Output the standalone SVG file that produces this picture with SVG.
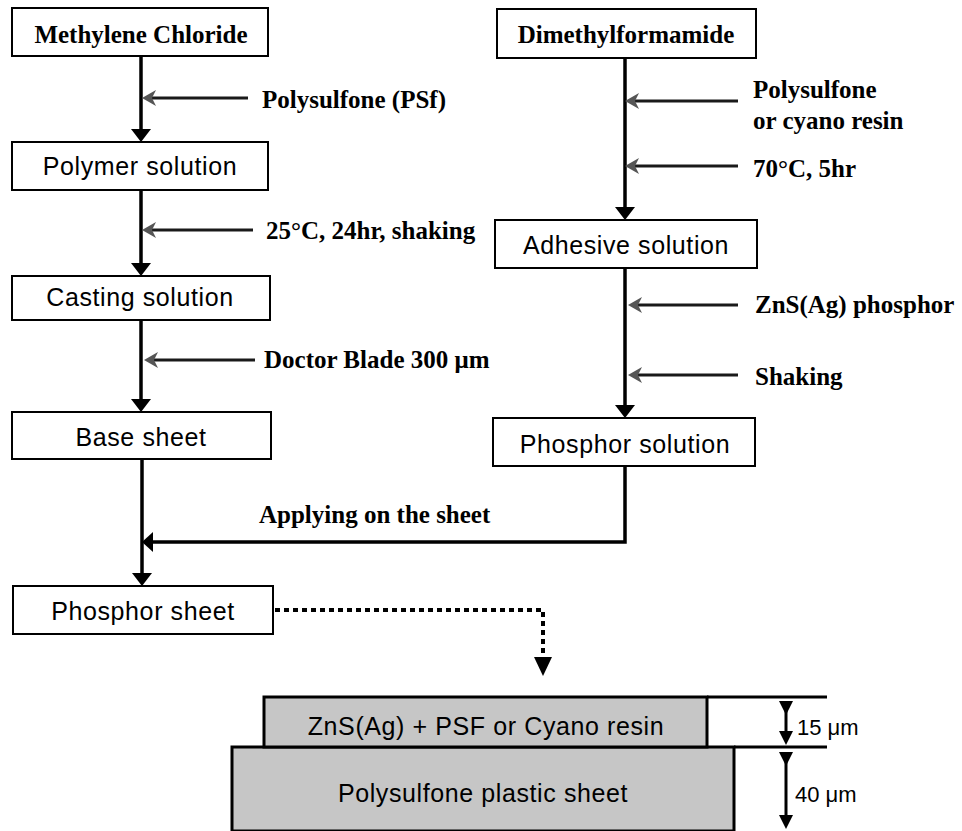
<svg xmlns="http://www.w3.org/2000/svg" width="962" height="831" viewBox="0 0 962 831">
<style>
.box{fill:#fff;stroke:#000;stroke-width:2}
.bl{font-family:"Liberation Sans",Arial,sans-serif;font-size:25px;letter-spacing:0.6px;fill:#000;text-anchor:middle}
.tb{font-family:"Liberation Serif","Times New Roman",serif;font-size:25px;font-weight:bold;fill:#000}
.main{stroke:#000;stroke-width:3.5;fill:none}
.side{stroke:#1a1a1a;stroke-width:3;fill:none}
.dot{stroke:#000;stroke-width:4;fill:none;stroke-dasharray:5 4}
.layer{fill:#c6c6c6;stroke:#000;stroke-width:3}
.edge{stroke:#000;stroke-width:3;fill:none}
.dim{stroke:#000;stroke-width:3;fill:none}
.dl{font-family:"Liberation Sans",Arial,sans-serif;font-size:22px;fill:#000}
</style>
<defs>
<marker id="ah" markerUnits="userSpaceOnUse" markerWidth="14" markerHeight="20" refX="7" refY="10" orient="auto" viewBox="0 0 14 20">
<path d="M0,0 L13,10 L0,20 z" fill="#000"/>
</marker>
<marker id="ahs" markerUnits="userSpaceOnUse" markerWidth="14" markerHeight="16" refX="4" refY="8" orient="auto" viewBox="0 0 14 16">
<path d="M0,0 L14,8 L0,16 L4,8 z" fill="#555"/>
</marker>
<marker id="ahd" markerUnits="userSpaceOnUse" markerWidth="14" markerHeight="14" refX="6" refY="7" orient="auto" viewBox="0 0 14 14">
<path d="M0,0 L14,7 L0,14 z" fill="#000"/>
</marker>
<marker id="ahj" markerUnits="userSpaceOnUse" markerWidth="12" markerHeight="20" refX="4" refY="10" orient="auto" viewBox="0 0 12 20">
<path d="M0,0 L11,10 L0,20 z" fill="#000"/>
</marker>
</defs>

<g id="connectors">
<line class="main" x1="141" y1="56" x2="141" y2="136" marker-end="url(#ah)"/>
<line class="main" x1="141" y1="190" x2="141" y2="270" marker-end="url(#ah)"/>
<line class="main" x1="141" y1="320" x2="141" y2="406" marker-end="url(#ah)"/>
<line class="main" x1="142" y1="459" x2="142" y2="580" marker-end="url(#ah)"/>
<line class="main" x1="625" y1="58" x2="625" y2="214" marker-end="url(#ah)"/>
<line class="main" x1="625" y1="268" x2="625" y2="412" marker-end="url(#ah)"/>
<polyline class="main" points="625,466 625,542 149,542" marker-end="url(#ahj)"/>
<line class="side" x1="248" y1="98" x2="152" y2="98" marker-end="url(#ahs)"/>
<line class="side" x1="253" y1="230" x2="152" y2="230" marker-end="url(#ahs)"/>
<line class="side" x1="255" y1="360" x2="154" y2="360" marker-end="url(#ahs)"/>
<line class="side" x1="738" y1="101" x2="635" y2="101" marker-end="url(#ahs)"/>
<line class="side" x1="738" y1="166" x2="635" y2="166" marker-end="url(#ahs)"/>
<line class="side" x1="738" y1="305" x2="638" y2="305" marker-end="url(#ahs)"/>
<line class="side" x1="738" y1="375" x2="638" y2="375" marker-end="url(#ahs)"/>
<polyline class="dot" points="275,610 543,610 543,660"/>
<path d="M534,657 L552,657 L543,676 z" fill="#000"/>
</g>

<g id="labels">
<text class="tb" x="262" y="108">Polysulfone (PSf)</text>
<text class="tb" x="266" y="239">25°C, 24hr, shaking</text>
<text class="tb" x="264" y="368">Doctor Blade 300 μm</text>
<text class="tb" x="753" y="98">Polysulfone</text>
<text class="tb" x="753" y="129">or cyano resin</text>
<text class="tb" x="753" y="177">70°C, 5hr</text>
<text class="tb" x="755" y="313">ZnS(Ag) phosphor</text>
<text class="tb" x="755" y="385">Shaking</text>
<text class="tb" x="259" y="523">Applying on the sheet</text>
</g>

<g id="n-methylene">
<rect class="box" x="12" y="8" width="256" height="48"/>
<text class="tb" x="141" y="43" text-anchor="middle">Methylene Chloride</text>
</g>
<g id="n-polymer">
<rect class="box" x="12" y="142" width="256" height="48"/>
<text class="bl" x="140" y="175">Polymer solution</text>
</g>
<g id="n-casting">
<rect class="box" x="12" y="276" width="258" height="44"/>
<text class="bl" x="140" y="306">Casting solution</text>
</g>
<g id="n-base">
<rect class="box" x="12" y="412" width="259" height="47"/>
<text class="bl" x="141" y="446">Base sheet</text>
</g>
<g id="n-phosphor-sheet">
<rect class="box" x="13" y="586" width="260" height="48"/>
<text class="bl" x="143" y="620">Phosphor sheet</text>
</g>
<g id="n-dmf">
<rect class="box" x="497" y="9" width="259" height="49"/>
<text class="tb" x="626" y="43" text-anchor="middle">Dimethylformamide</text>
</g>
<g id="n-adhesive">
<rect class="box" x="495" y="220" width="262" height="48"/>
<text class="bl" x="626" y="254">Adhesive solution</text>
</g>
<g id="n-phosphor-solution">
<rect class="box" x="493" y="418" width="262" height="48"/>
<text class="bl" x="625" y="453">Phosphor solution</text>
</g>

<g id="n-layers">
<rect class="layer" x="232" y="747" width="502" height="84"/>
<rect class="layer" x="264" y="697" width="443" height="50"/>
<line class="edge" x1="707" y1="697" x2="827" y2="697"/>
<line class="edge" x1="734" y1="747" x2="827" y2="747"/>
<text class="bl" x="486" y="735">ZnS(Ag) + PSF or Cyano resin</text>
<text class="bl" x="483" y="802">Polysulfone plastic sheet</text>
<line class="dim" x1="786" y1="707" x2="786" y2="737" marker-start="url(#ahd)" marker-end="url(#ahd)"/>
<line class="dim" x1="786" y1="758" x2="786" y2="821" marker-start="url(#ahd)" marker-end="url(#ahd)"/>
<text class="dl" x="797" y="735">15 μm</text>
<text class="dl" x="795" y="802">40 μm</text>
</g>
</svg>
